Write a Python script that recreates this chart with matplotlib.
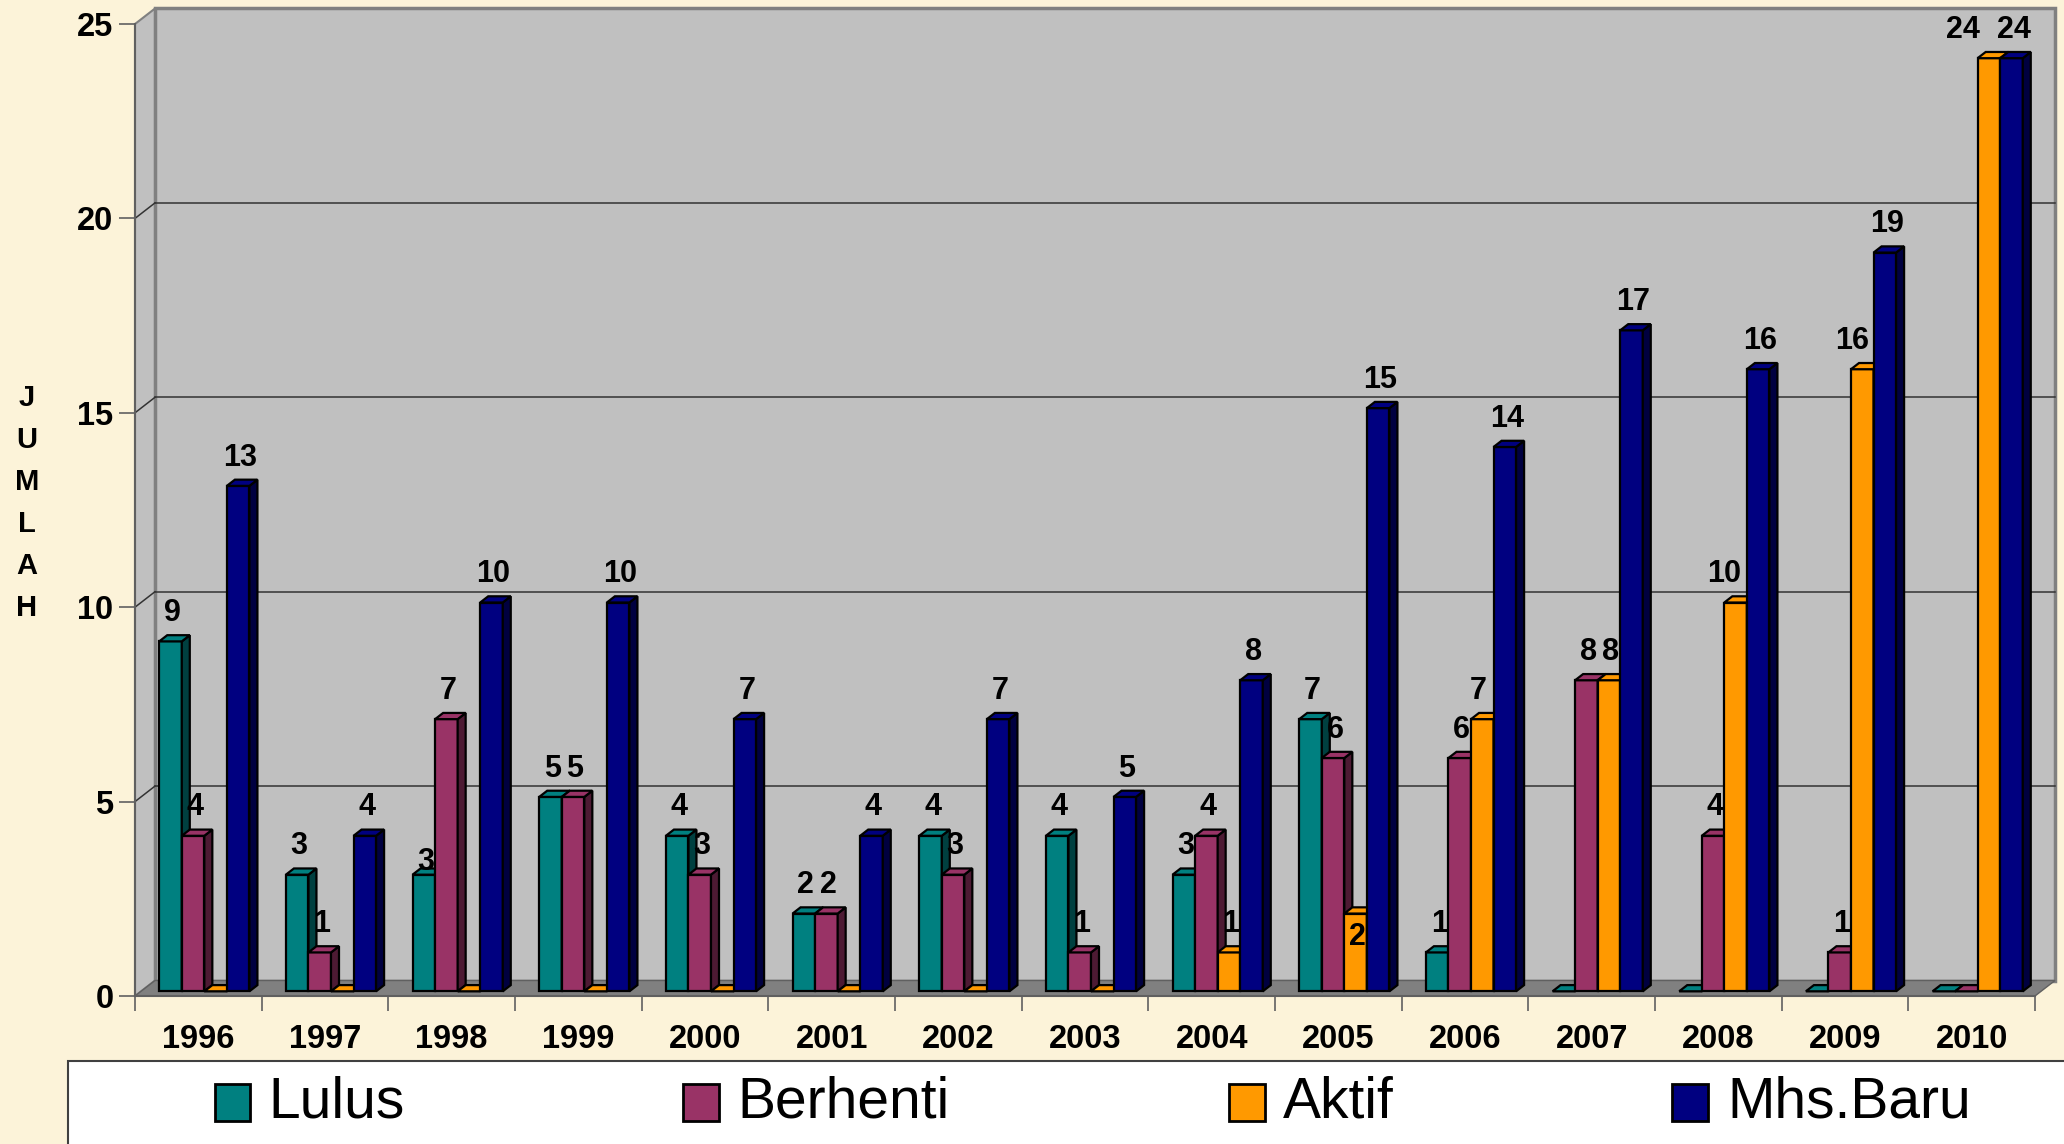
"""Jumlah mahasiswa per angkatan 1996-2010 (pseudo-3D clustered bars) -> out.png"""
import matplotlib
matplotlib.use('Agg')
import matplotlib.pyplot as plt
from matplotlib.patches import Polygon, Rectangle

years = ['1996', '1997', '1998', '1999', '2000', '2001', '2002', '2003',
         '2004', '2005', '2006', '2007', '2008', '2009', '2010']
lulus = [9, 3, 3, 5, 4, 2, 4, 4, 3, 7, 1, 0, 0, 0, 0]
berhenti = [4, 1, 7, 5, 3, 2, 3, 1, 4, 6, 6, 8, 4, 1, 0]
aktif = [0, 0, 0, 0, 0, 0, 0, 0, 1, 2, 7, 8, 10, 16, 24]
mhs_baru = [13, 4, 10, 10, 7, 4, 7, 5, 8, 15, 14, 17, 16, 19, 24]

names = ['Lulus', 'Berhenti', 'Aktif', 'Mhs.Baru']
series = [lulus, berhenti, aktif, mhs_baru]
colors = ['#008080', '#993366', '#FF9900', '#000080']
sides = ['#004040', '#4D1A33', '#804C00', '#000040']

plt.rcParams['font.family'] = ['Liberation Sans', 'DejaVu Sans']

W, H = 2064, 1144
fig = plt.figure(figsize=(W / 100, H / 100), dpi=100, facecolor='#FCF3D9')
ax = fig.add_axes([135 / W, 1 - 996 / H, 1900 / W, 972 / H])
n = len(years)
ymax = 25
ax.set_xlim(0, n)
ax.set_ylim(0, ymax)
ax.set_facecolor('none')

px_x = n / 1900.0       # data units per pixel
px_y = ymax / 972.0
DX, DY = 20 * px_x, 15.5 * px_y          # full depth of the box
ox, oy = 6 * px_x, 4.7 * px_y            # bar front offset
bdx, bdy = 8 * px_x, 6.2 * px_y          # bar depth

# walls and floor
ax.add_patch(Polygon([(0, 0), (0, ymax), (DX, ymax + DY), (DX, DY)], closed=True,
                     fc='#C0C0C0', ec='#808080', lw=1.5, zorder=0, clip_on=False))
ax.add_patch(Rectangle((DX, DY), n, ymax, fc='#C0C0C0', ec='#808080', lw=2.5,
                       zorder=0, clip_on=False))
ax.add_patch(Polygon([(0, 0), (n, 0), (n + DX, DY), (DX, DY)], closed=True,
                     fc='#808080', ec='#606060', lw=1, zorder=0.5, clip_on=False))
for v in range(5, ymax, 5):
    ax.plot([DX, n + DX], [v + DY, v + DY], color='#333333', lw=1.1, zorder=1, clip_on=False)
    ax.plot([0, DX], [v, v + DY], color='#333333', lw=1.1, zorder=1, clip_on=False)

# bars
w = 0.178
# (category, series): label nudges, y in data units, x in pixels
label_dy = {(9, 2): -0.48, (2, 0): 0.45}
label_dx = {(12, 2): -13, (13, 2): -12, (14, 2): -28, (10, 2): -6}
for j, (vals, c, sc) in enumerate(zip(series, colors, sides)):
    z = 3 + j
    lefts = [i + 0.5 - 2 * w + j * w + ox for i in range(n)]
    ax.bar(lefts, vals, width=w, bottom=oy, align='edge', color=c,
           edgecolor='black', linewidth=1.6, zorder=z)
    for i, (xl, v) in enumerate(zip(lefts, vals)):
        xr = xl + w
        top = oy + v
        ax.add_patch(Polygon([(xr, oy), (xr, top), (xr + bdx, top + bdy), (xr + bdx, oy + bdy)],
                             closed=True, fc=sc, ec='black', lw=1.6, zorder=z + 0.1))
        ax.add_patch(Polygon([(xl, top), (xr, top), (xr + bdx, top + bdy), (xl + bdx, top + bdy)],
                             closed=True, fc=c, ec='black', lw=1.6, zorder=z + 0.2))
        if v > 0:
            xt = xl + w / 2 + (2 + label_dx.get((i, j), 0)) * px_x
            ax.text(xt, v + label_dy.get((i, j), 0.85), str(v),
                    ha='center', va='center', fontsize=22, fontweight='bold', zorder=20)

# axes
for s in ['top', 'right']:
    ax.spines[s].set_visible(False)
for s in ['left', 'bottom']:
    ax.spines[s].set_color('#606060')
    ax.spines[s].set_linewidth(1.5)
    ax.spines[s].set_zorder(2)
ax.set_yticks(range(0, ymax + 1, 5))
ax.tick_params(axis='y', length=11.5, width=1.2, color='#606060', pad=4,
               labelsize=23.5)
for t in ax.get_yticklabels():
    t.set_fontweight('bold')
ax.set_xticks(range(n + 1))
ax.set_xticklabels([])
ax.tick_params(axis='x', which='major', length=11, width=1.2, color='#606060')
ax.set_xticks([i + 0.5 for i in range(n)], minor=True)
ax.set_xticklabels(years, minor=True, fontsize=23.5, fontweight='bold')
ax.tick_params(axis='x', which='minor', length=0, pad=20)

ax.set_ylabel('\n'.join('JUMLAH'), rotation=0, fontsize=21, fontweight='bold',
              linespacing=1.64, va='center', ha='center')
ax.yaxis.set_label_coords((27 - 135) / 1900, (996 - 503) / 972)

# legend box
fig.patches.append(Rectangle((68 / W, -0.01), 1.0, (1144 - 1061) / H + 0.01,
                             transform=fig.transFigure, fc='white', ec='#404040',
                             lw=1.5, zorder=0))
sq_left = [214.5, 683, 1229, 1672]
txt_left = [268.5, 737, 1283, 1727]
yc = 1103
for name, c, xs, xt in zip(names, colors, sq_left, txt_left):
    fig.patches.append(Rectangle((xs / W, 1 - (yc + 18) / H), 35.5 / W, 37 / H,
                                 transform=fig.transFigure, fc=c, ec='black', lw=2, zorder=1))
    fig.text(xt / W, 1 - yc / H, name, fontsize=41, va='center', ha='left')

fig.savefig('out.png', dpi=100, facecolor=fig.get_facecolor())
print('wrote out.png')
